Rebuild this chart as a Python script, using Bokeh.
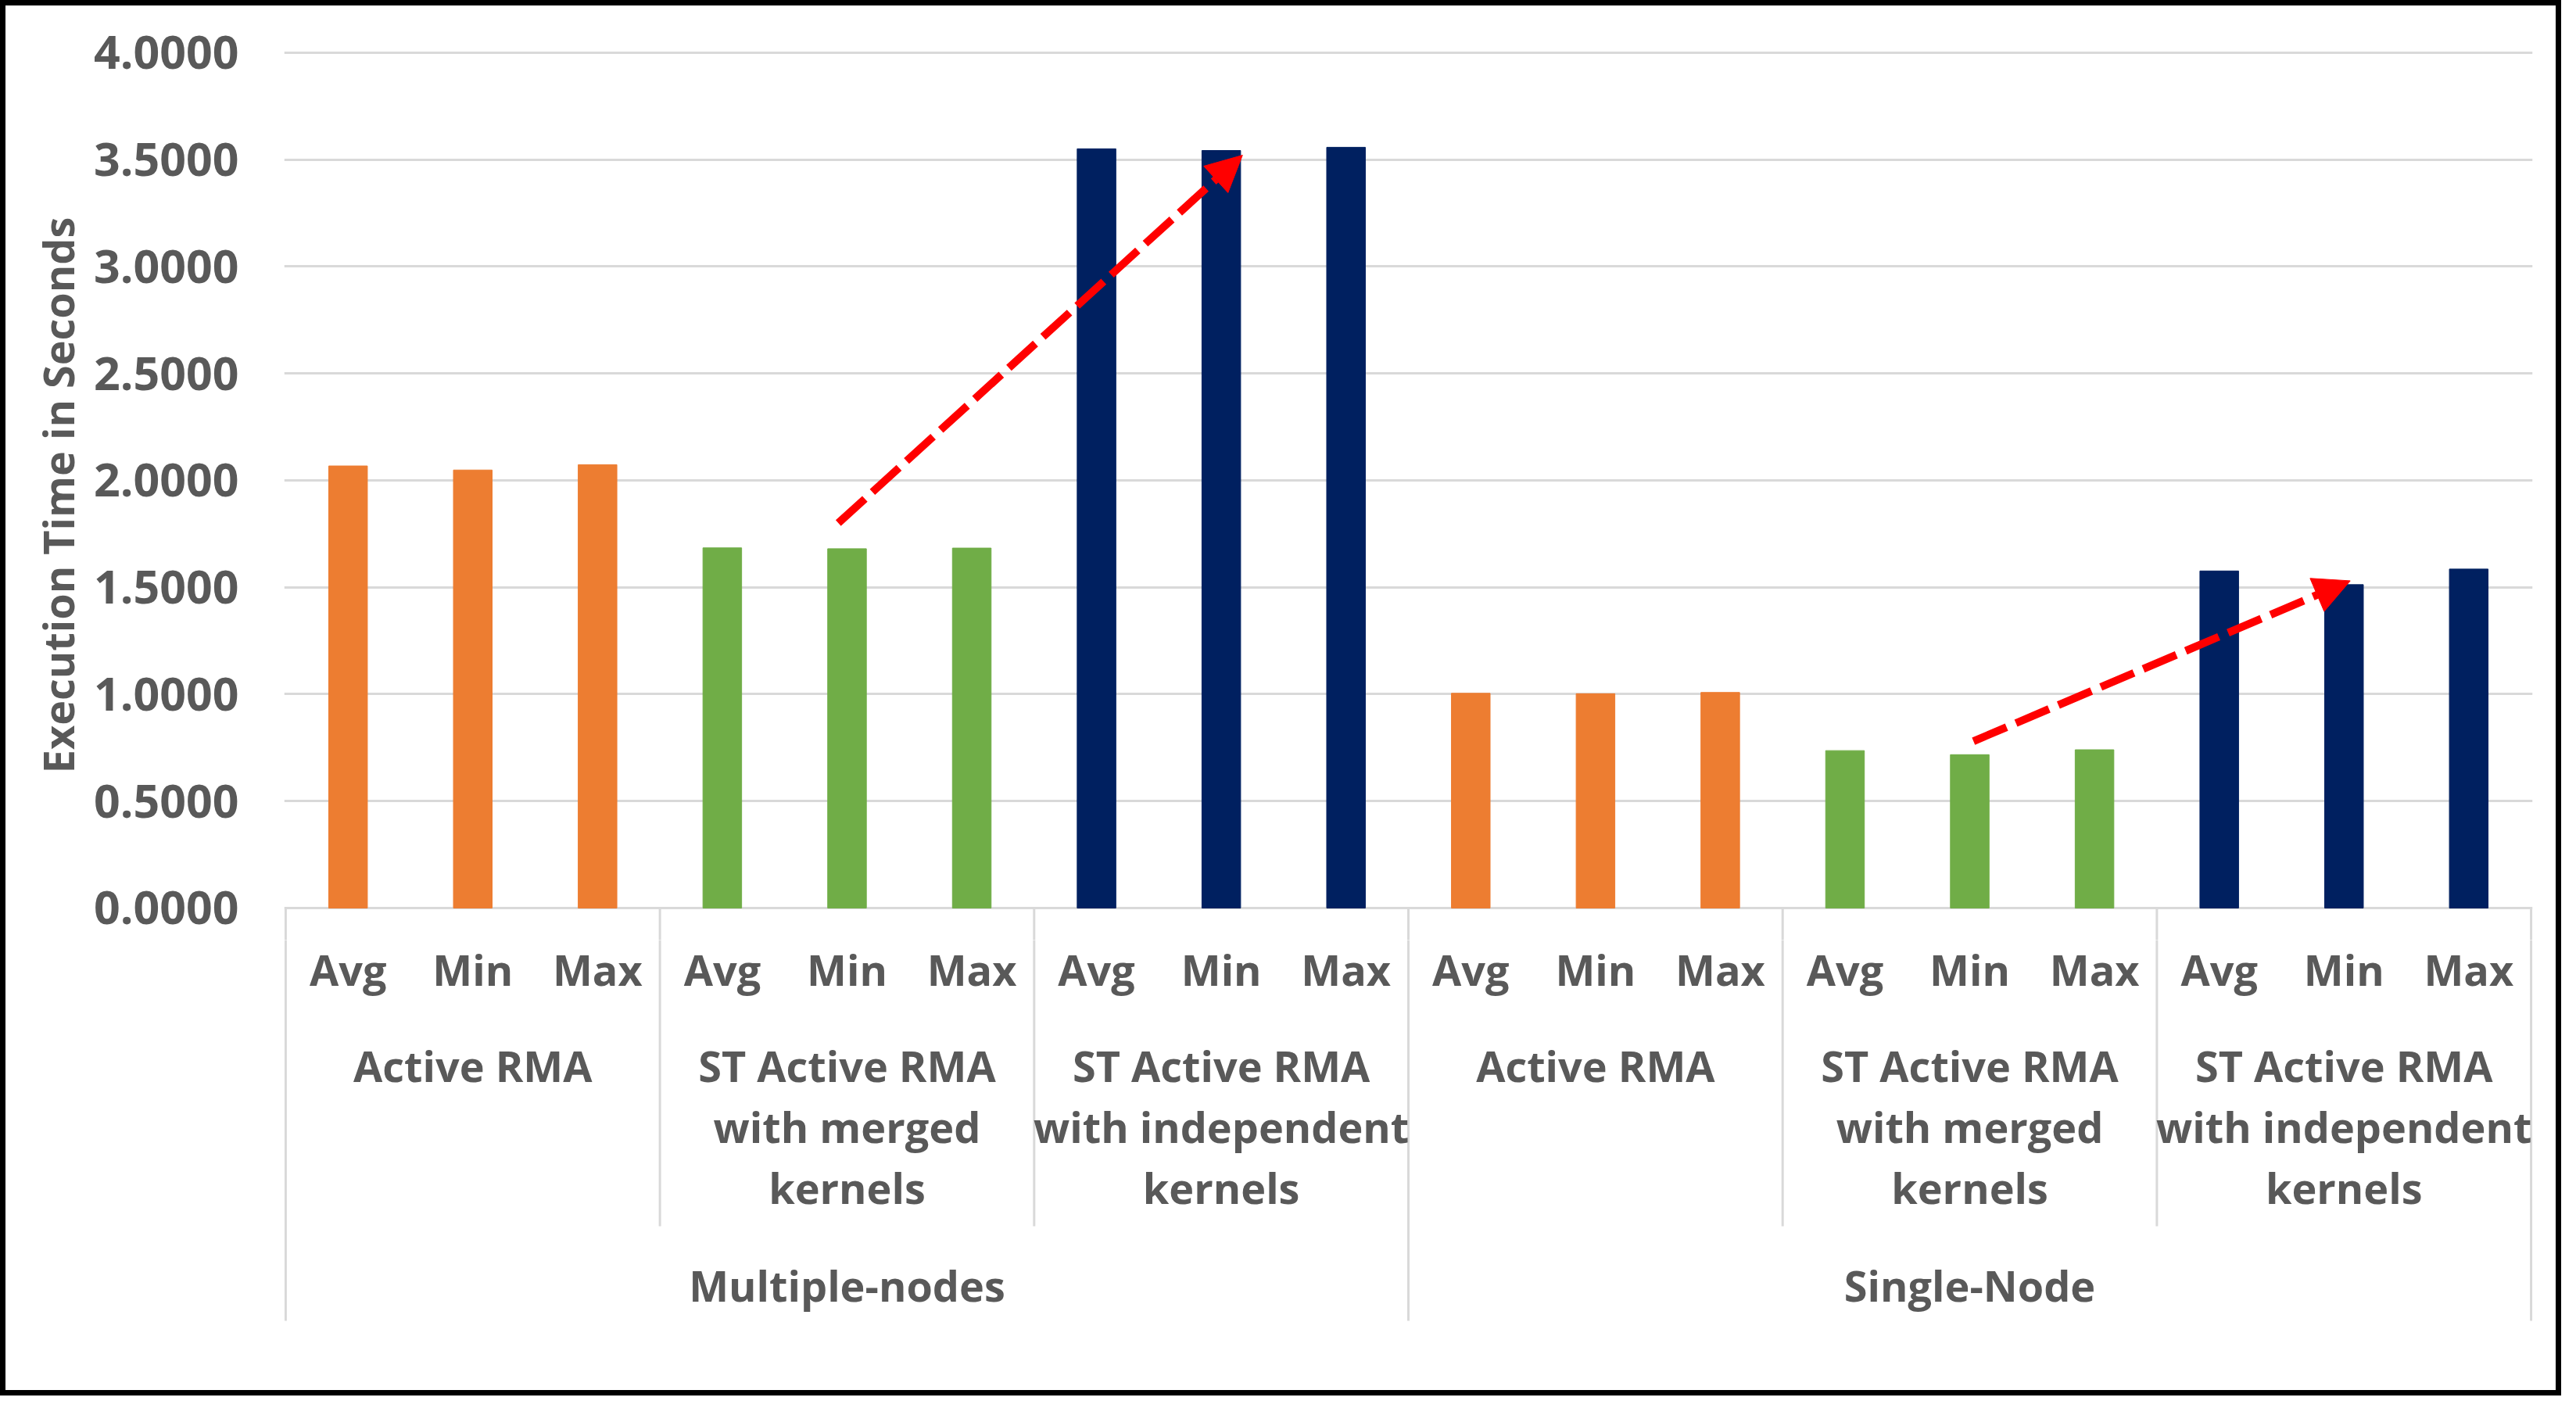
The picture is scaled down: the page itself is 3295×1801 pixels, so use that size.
from bokeh.plotting import figure
from bokeh.models import (Range1d, FixedTicker, Arrow, NormalHead, ColumnDataSource,
                          PrintfTickFormatter)
from bokeh.layouts import column
from bokeh.embed import file_html
from bokeh.resources import INLINE
from bokeh.core.properties import value

# ---------------- data ----------------
setups = ["Multiple-nodes", "Single-Node"]
methods = ["Active RMA", "ST Active RMA\nwith merged\nkernels", "ST Active RMA\nwith independent\nkernels"]
metrics = ["Avg", "Min", "Max"]
method_colors = ["#ED7D31", "#70AD47", "#002060"]

multi_active = [2.067, 2.048, 2.073]
multi_merged = [1.684, 1.680, 1.683]
multi_indep = [3.550, 3.542, 3.557]
single_active = [1.004, 1.002, 1.008]
single_merged = [0.736, 0.717, 0.740]
single_indep = [1.576, 1.512, 1.585]

y_ticks = [0.0, 0.5, 1.0, 1.5, 2.0, 2.5, 3.0, 3.5, 4.0]

# trend arrows (x in category slots, y in seconds)
arrow_x_start = [4.43, 13.53]
arrow_y_start = [1.80, 0.78]
arrow_x_end = [7.67, 16.55]
arrow_y_end = [3.52, 1.53]

# ---------------- build ----------------
series = [multi_active, multi_merged, multi_indep, single_active, single_merged, single_indep]
xs, tops, cols, labels = [], [], [], []
i = 0
for s_idx, s in enumerate(setups):
    for m_idx, m in enumerate(methods):
        vals = series[s_idx * len(methods) + m_idx]
        for k, met in enumerate(metrics):
            xs.append(i + 0.5)
            tops.append(vals[k])
            cols.append(method_colors[m_idx])
            labels.append(met)
            i += 1
n = i
per_setup = len(methods) * len(metrics)

TEXT = "#595959"
FONT = value("Open Sans")
GRID = "#D9D9D9"

xr = Range1d(-0.012, n + 0.012)

W = 3262
LB = 356
RB = 30
TOP = 57
PX = 273.6            # pixels per second on the value axis
YLO = -0.15           # frame extends a little below zero for the axis labels
YHI = 4.01
H1 = TOP + int(round((YHI - YLO) * PX))
OFF = -YLO * PX
H2 = 1771 - H1

p = figure(width=W, height=H1, x_range=xr, y_range=Range1d(YLO, YHI),
           output_backend="svg", toolbar_location=None, x_axis_location=None,
           min_border_left=LB, min_border_right=RB, min_border_top=TOP, min_border_bottom=0)
p.outline_line_color = None
p.background_fill_color = "white"
p.border_fill_color = "white"
p.xgrid.grid_line_color = None
p.ygrid.ticker = FixedTicker(ticks=y_ticks)
p.ygrid.grid_line_color = GRID
p.ygrid.grid_line_width = 3

ax = p.yaxis[0]
ax.ticker = FixedTicker(ticks=y_ticks)
ax.formatter = PrintfTickFormatter(format="%.4f")
ax.axis_line_color = None
ax.major_tick_line_color = None
ax.minor_tick_line_color = None
ax.major_label_text_font = "Open Sans"
ax.major_label_text_font_style = "bold"
ax.major_label_text_font_size = "59px"
ax.major_label_text_color = TEXT
ax.major_label_standoff = 52
ax.axis_label = "Execution Time in Seconds"
ax.axis_label_text_font = "Open Sans"
ax.axis_label_text_font_style = "bold"
ax.axis_label_text_font_size = "54px"
ax.axis_label_text_color = TEXT
ax.axis_label_standoff = 6

src = ColumnDataSource(dict(x=xs, top=tops, color=cols, label=labels))
p.vbar(x="x", top="top", bottom=0, width=0.31, fill_color="color", line_color="color", source=src)

asrc = ColumnDataSource(dict(x0=arrow_x_start, y0=arrow_y_start, x1=arrow_x_end, y1=arrow_y_end))
p.add_layout(Arrow(source=asrc, x_start="x0", y_start="y0", x_end="x1", y_end="y1",
                   line_color="#FF0000", line_width=10, line_dash="46 13",
                   end=NormalHead(size=46, fill_color="#FF0000", line_color="#FF0000", line_width=1)))

# separators
sx, sy_in = [], []
for b in range(0, n + 1, len(metrics)):
    sx.append(b)
    sy_in.append(528 if b % per_setup == 0 else 407)
p.segment(x0=sx, y0=[0] * len(sx), x1=sx, y1=[YLO] * len(sx), line_color=GRID, line_width=3)

# ---------------- category axis panel ----------------
q = figure(width=W, height=H2, x_range=xr, y_range=Range1d(-(H2 + OFF), -OFF),
           output_backend="svg", toolbar_location=None, x_axis_location=None, y_axis_location=None,
           min_border_left=LB, min_border_right=RB, min_border_top=0, min_border_bottom=0)
q.outline_line_color = None
q.grid.grid_line_color = None
q.background_fill_color = "white"
q.border_fill_color = "white"

q.segment(x0=sx, y0=[0] * len(sx), x1=sx, y1=[-v for v in sy_in], line_color=GRID, line_width=3)

tkw = dict(text_font=FONT, text_font_style="bold", text_color=TEXT,
           text_align="center", text_baseline="middle")
# level 1: Avg/Min/Max
q.text(x=xs, y=[-79] * n, text=labels, text_font_size="54px", **tkw)
# level 2: methods
mx, my, mt = [], [], []
for s_idx in range(len(setups)):
    for m_idx, m in enumerate(methods):
        cx = s_idx * per_setup + m_idx * len(metrics) + len(metrics) / 2
        for li, line in enumerate(m.split("\n")):
            mx.append(cx)
            my.append(-(202 + 78 * li))
            mt.append(line)
q.text(x=mx, y=my, text=mt, text_font_size="54px", **tkw)
# level 3: setups
q.text(x=[s_idx * per_setup + per_setup / 2 for s_idx in range(len(setups))],
       y=[-483] * len(setups), text=setups, text_font_size="54px", **tkw)

layout = column(p, q, spacing=0, styles={"border": "7px solid black"})

open("out.html", "w").write(file_html(layout, INLINE))
